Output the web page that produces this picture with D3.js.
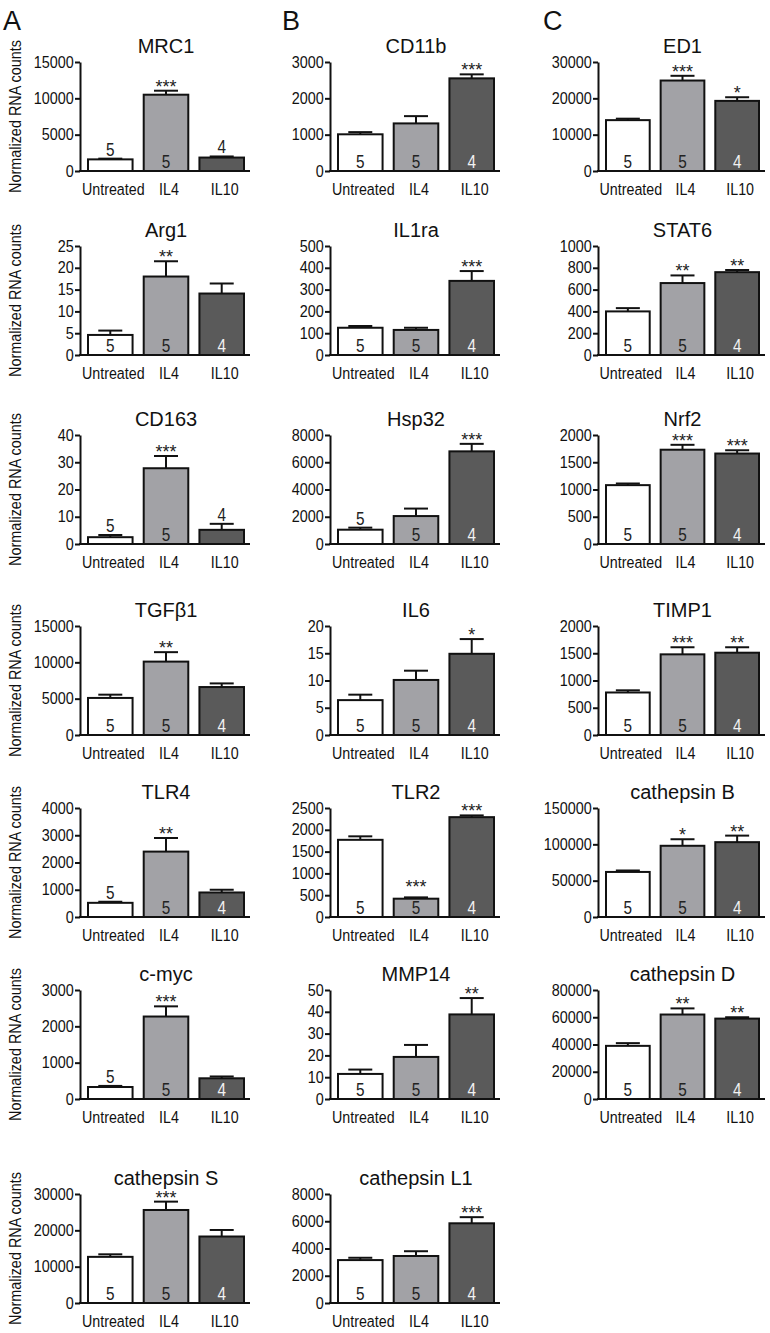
<!DOCTYPE html>
<html><head><meta charset="utf-8">
<script src="https://cdn.jsdelivr.net/npm/d3@7"></script>
<style>body{margin:0;background:#fff}svg{display:block}text{font-family:"Liberation Sans",Arial,sans-serif}</style>
</head><body><svg id="c" width="770" height="1333"></svg>
<script>
const categories = ["Untreated", "IL4", "IL10"];
const nValues = [5, 5, 4];
const panelLetters = ["A", "B", "C"];
const yAxisTitle = "Normalized RNA counts";

const genesA = ["MRC1", "Arg1", "CD163", "TGFβ1", "TLR4", "c-myc", "cathepsin S"];
const meansA = [[1600,10500,1850],[4.6,18,14.1],[2.5,27.8,5.2],[5100,10100,6600],[520,2400,900],[330,2270,570],[12700,25600,18300]];
const errsA  = [[100,550,150],[1.0,3.5,2.3],[0.8,4.5,2.2],[450,1300,500],[40,500,100],[30,280,50],[700,2300,1800]];
const starsA = [["","***",""],["","**",""],["","***",""],["","**",""],["","**",""],["","***",""],["","***",""]];
const ticksA = [[0,5000,10000,15000],[0,5,10,15,20,25],[0,10,20,30,40],[0,5000,10000,15000],[0,1000,2000,3000,4000],[0,1000,2000,3000],[0,10000,20000,30000]];

const genesB = ["CD11b", "IL1ra", "Hsp32", "IL6", "TLR2", "MMP14", "cathepsin L1"];
const meansB = [[1010,1310,2550],[125,115,340],[1050,2050,6800],[6.4,10.1,14.9],[1770,420,2290],[11.5,19.3,38.8],[3150,3450,5850]];
const errsB  = [[60,200,110],[8,10,45],[150,550,550],[1.0,1.7,2.7],[80,30,40],[2,5.5,7.5],[170,350,450]];
const starsB = [["","","***"],["","","***"],["","","***"],["","","*"],["","***","***"],["","","**"],["","","***"]];
const ticksB = [[0,1000,2000,3000],[0,100,200,300,400,500],[0,2000,4000,6000,8000],[0,5,10,15,20],[0,500,1000,1500,2000,2500],[0,10,20,30,40,50],[0,2000,4000,6000,8000]];

const genesC = ["ED1", "STAT6", "Nrf2", "TIMP1", "cathepsin B", "cathepsin D"];
const meansC = [[14000,24900,19300],[400,660,760],[1080,1730,1660],[780,1480,1510],[62000,98000,103000],[39000,62000,59000]];
const errsC  = [[400,1300,1000],[30,70,20],[30,90,60],[40,130,100],[2000,9000,9000],[2000,4500,1000]];
const starsC = [["","***","*"],["","**","**"],["","***","***"],["","***","**"],["","*","**"],["","**","**"]];
const ticksC = [[0,10000,20000,30000],[0,200,400,600,800,1000],[0,500,1000,1500,2000],[0,500,1000,1500,2000],[0,50000,100000,150000],[0,20000,40000,60000,80000]];

const barColors = ["#ffffff", "#a2a2a6", "#5a5a5a"];
const nColors = ["#222", "#222", "#f2f2f2"];

const columns = [
  {genes: genesA, means: meansA, errs: errsA, stars: starsA, ticks: ticksA, x0: 80, x1: 250, yLabel: true},
  {genes: genesB, means: meansB, errs: errsB, stars: starsB, ticks: ticksB, x0: 330, x1: 500, yLabel: false},
  {genes: genesC, means: meansC, errs: errsC, stars: starsC, ticks: ticksC, x0: 598, x1: 765, yLabel: false}
];
const baselines = [171, 355, 544, 735, 917, 1099, 1303];
const plotH = 109;
const letterX = [3, 282, 543];

const svg = d3.select("#c");

function txt(g, x, y, s, size, anchor, fill, sx) {
  return g.append("text")
    .attr("transform", `translate(${x},${y}) scale(${sx || 1},1)`)
    .attr("text-anchor", anchor || "middle")
    .attr("font-size", size)
    .attr("fill", fill || "#111")
    .text(s);
}

panelLetters.forEach((L, i) => txt(svg, letterX[i], 30, L, 27, "start", "#111"));

columns.forEach(col => {
  col.genes.forEach((gene, r) => {
    const base = baselines[r];
    const ticks = col.ticks[r];
    const y = d3.scaleLinear().domain([0, d3.max(ticks)]).range([base, base - plotH]);
    const x = d3.scaleBand().domain(categories).range([col.x0 + 8, col.x1 - 6]).paddingInner(0.2).paddingOuter(0);
    const g = svg.append("g");

    const vals = col.means[r], errs = col.errs[r];
    categories.forEach((c, i) => {
      g.append("rect").attr("x", x(c)).attr("y", y(vals[i]))
        .attr("width", x.bandwidth()).attr("height", base - y(vals[i]))
        .attr("fill", barColors[i]).attr("stroke", "#111").attr("stroke-width", 2);
      const cx = x(c) + x.bandwidth() / 2;
      const top = y(vals[i] + errs[i]);
      g.append("line").attr("x1", cx).attr("x2", cx).attr("y1", y(vals[i])).attr("y2", top)
        .attr("stroke", "#111").attr("stroke-width", 2);
      g.append("line").attr("x1", cx - 12).attr("x2", cx + 12).attr("y1", top).attr("y2", top)
        .attr("stroke", "#111").attr("stroke-width", 2);
      let starBase = top + 2;
      const barH = base - y(vals[i]);
      if (barH < 17) {
        txt(g, cx, top - 3, nValues[i], 18, "middle", "#222", 0.85);
        starBase = top - 20;
      } else {
        txt(g, cx, base - 3, nValues[i], 18, "middle", nColors[i], 0.85);
        starBase = Math.min(starBase, base - 24);
      }
      if (col.stars[r][i]) txt(g, cx, starBase, col.stars[r][i], 18, "middle", "#222");
    });

    const ax = g.append("g").attr("transform", `translate(${col.x0},0)`)
      .call(d3.axisLeft(y).tickValues(ticks).tickSize(5).tickSizeOuter(0).tickFormat(d3.format("d")));
    ax.select(".domain").attr("stroke", "#111").attr("stroke-width", 2);
    ax.selectAll(".tick line").attr("stroke", "#111").attr("stroke-width", 2);
    ax.selectAll(".tick text").attr("font-size", 16).attr("fill", "#111")
      .attr("font-family", '"Liberation Sans",Arial,sans-serif')
      .attr("x", -7).attr("transform", "scale(0.9,1)");

    g.append("line").attr("x1", col.x0 - 1).attr("x2", col.x1).attr("y1", base).attr("y2", base)
      .attr("stroke", "#111").attr("stroke-width", 2);
    categories.forEach(c => txt(g, x(c) + x.bandwidth() / 2 + 3, base + 24, c, 17, "middle", "#111", 0.84));

    txt(g, x(categories[1]) + x.bandwidth() / 2, base - 118, gene, 20, "middle", "#111");

    if (col.yLabel) {
      g.append("text").attr("transform", `translate(21,${base - plotH / 2}) rotate(-90) scale(0.9,1)`)
        .attr("text-anchor", "middle").attr("font-size", 16).attr("fill", "#111").text(yAxisTitle);
    }
  });
});
</script></body></html>
